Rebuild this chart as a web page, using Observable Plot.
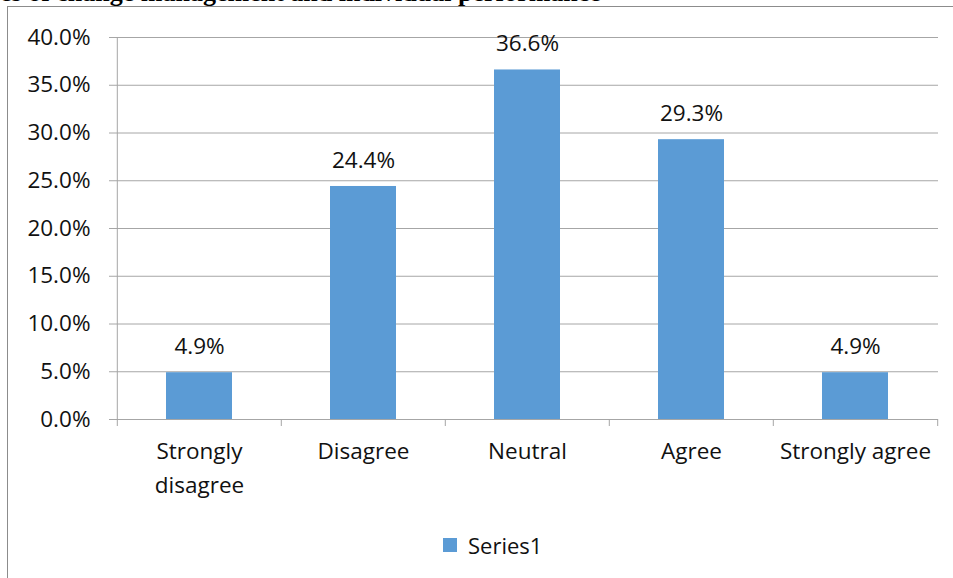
<!DOCTYPE html>
<html>
<head>
<meta charset="utf-8">
<script src="https://cdn.jsdelivr.net/npm/d3@7"></script>
<script src="https://cdn.jsdelivr.net/npm/@observablehq/plot@0.6"></script>
<style>
  html, body { margin: 0; padding: 0; background: #fff; }
  #wrap { position: relative; width: 953px; height: 578px; overflow: hidden; font-family: "Open Sans", sans-serif; }
  #border { position: absolute; left: 7px; top: 6px; width: 960px; height: 600px; border-left: 1px solid #8c8c8c; border-top: 1px solid #8c8c8c; box-sizing: border-box; }
  #title { position: absolute; left: 0px; top: -20px; line-height: 26px; font-family: "Liberation Serif", serif; font-weight: bold; font-size: 26px; white-space: nowrap; color: #000; }
  #chart { position: absolute; left: 0; top: 0; }
  #legend { position: absolute; left: 443px; top: 528px; }
</style>
</head>
<body>
<div id="wrap">
  <div id="border"></div>
  <div id="title">es of change management and individual performance</div>
  <div id="chart"></div>
  <div id="legend"></div>
</div>
<script>
const categories = ["Strongly disagree", "Disagree", "Neutral", "Agree", "Strongly agree"];
const tickLabels = ["Strongly\ndisagree", "Disagree", "Neutral", "Agree", "Strongly agree"];
const values = [0.049, 0.244, 0.366, 0.293, 0.049];
const yTicks = [0, 0.05, 0.10, 0.15, 0.20, 0.25, 0.30, 0.35, 0.40];
const seriesName = "Series1";

const barColor = "#5b9bd5";
const gridColor = "#a6a6a6";
const textColor = "#111";
const font = "'Open Sans', sans-serif";
const fs = 22.5;
const data = categories.map((c, i) => ({cat: c, label: tickLabels[i], value: values[i]}));

const width = 953, height = 520;
const marginLeft = 116, marginRight = 15, marginTop = 37, marginBottom = 101;
const step = (width - marginLeft - marginRight) / categories.length;

const chart = Plot.plot({
  width, height, marginLeft, marginRight, marginTop, marginBottom,
  style: {fontFamily: font, fontSize: fs + "px", color: textColor, background: "transparent"},
  x: {type: "band", domain: categories, paddingInner: 0.6, paddingOuter: 0.3, axis: null},
  y: {domain: [0, 0.4], axis: null},
  marks: [
    Plot.gridY(yTicks, {stroke: gridColor, strokeOpacity: 1, strokeWidth: 1}),
    Plot.axisY(yTicks, {label: null, tickFormat: d3.format(".1%"), tickSize: 7, tickPadding: 19, stroke: gridColor, strokeOpacity: 1, fill: textColor, fontSize: fs}),
    Plot.barY(data, {x: "cat", y: "value", fill: barColor}),
    // y axis line (left boundary of the first category)
    Plot.ruleX([categories[0]], {y1: 0, y2: 0.4, dx: -step / 2, stroke: gridColor}),
    // baseline
    Plot.ruleY([0], {stroke: gridColor}),
    // category boundary tick marks
    Plot.ruleX(categories, {y1: 0, y2: 0, insetBottom: -7, dx: -step / 2, stroke: gridColor}),
    Plot.ruleX([categories[categories.length - 1]], {y1: 0, y2: 0, insetBottom: -7, dx: step / 2, stroke: gridColor}),
    // category labels
    Plot.text(data, {x: "cat", y: 0, text: "label", lineAnchor: "top", dy: 16, lineHeight: 1.5, fill: textColor, fontSize: fs}),
    // value labels
    Plot.text(data, {x: "cat", y: "value", text: d => d3.format(".1%")(d.value), dy: -26, fill: textColor, fontSize: fs})
  ]
});
document.getElementById("chart").appendChild(chart);

const legend = Plot.legend({
  color: {type: "ordinal", domain: [seriesName], range: [barColor]},
  swatchSize: 14,
  style: {fontFamily: font, fontSize: "22px", color: textColor}
});
document.getElementById("legend").appendChild(legend);
</script>
</body>
</html>
